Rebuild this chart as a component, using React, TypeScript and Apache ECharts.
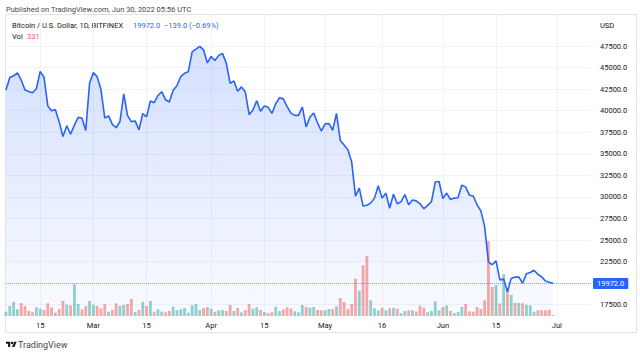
import React, { useEffect, useRef } from 'react';
import * as echarts from 'echarts';

// ---------- data ----------
const START_YEAR = 2022;
const START_MONTH = 1; // Feb (0-based)
const START_DAY = 6;
const AXIS_DAYS = 155; // Feb 6 .. Jul 10 (right margin of the plot)

// daily closes, Feb 6 .. Jun 30 2022
const prices = [
  // Feb 6 - Feb 28
  42410, 43840, 44040, 44380, 43560, 42400, 42220, 42070, 42540, 44560,
  43880, 40550, 40000, 40120, 38700, 37010, 38250, 37270, 38330, 39220,
  39120, 37710, 43190,
  // Mar 1 - Mar 31
  44420, 43920, 42450, 39150, 39400, 38420, 38020, 38740, 41940, 39430,
  38730, 38810, 37780, 39670, 39280, 41120, 40920, 41760, 42200, 41260,
  41000, 42360, 42890, 43960, 44330, 44520, 46820, 47130, 47460, 47060,
  45540,
  // Apr 1 - Apr 30
  46280, 45810, 46410, 46620, 45500, 43170, 43440, 42250, 42760, 42160,
  39530, 40080, 41150, 39940, 40550, 40390, 39680, 40800, 41500, 41370,
  40480, 39710, 39450, 39450, 40430, 38120, 39240, 39740, 38600, 37640,
  // May 1 - May 31
  38470, 38520, 37730, 39690, 36550, 36010, 35470, 34040, 30100, 31020,
  28940, 29030, 29280, 29860, 31300, 29860, 30420, 28690, 30310, 29200,
  29430, 30280, 29100, 29650, 29540, 29200, 28630, 29020, 29450, 31720,
  31790,
  // Jun 1 - Jun 30
  29800, 30450, 29700, 29860, 29910, 31370, 31130, 30200, 30110, 29090,
  28380, 26580, 22470, 22130, 22580, 20380, 20470, 19000, 20550, 20700,
  20720, 19990, 21100, 21230, 21500, 21030, 20730, 20250, 20100, 19972,
];

const volumes = [
  1430, 3320, 4650, 2220, 4320, 3320, 1660, 1230, 2890, 2420,
  1990, 4220, 2890, 1100, 2320, 4980, 3750, 3550, 10520, 3980,
  2220, 3320, 4980, 3750, 3320, 2560, 3980, 1430, 1990, 4220,
  3320, 3650, 3980, 5640, 1330, 1990, 4750, 3320, 4980, 1430,
  2220, 1430, 1230, 1660, 3090, 1890, 2220, 2660, 1100, 3550,
  3980, 1990, 2660, 2990, 2420, 1430, 1890, 1990, 1660, 3650,
  1660, 2660, 1230, 1890, 3980, 2420, 2890, 1990, 1330, 1000,
  1230, 3090, 1660, 2220, 2890, 2420, 1560, 1230, 3650, 2990,
  2760, 2990, 1990, 1890, 1890, 2320, 2320, 3220, 5980, 4650,
  2320, 3980, 12380, 8400, 16830, 19920, 5210, 2560, 1890, 2760,
  1890, 2560, 2660, 2420, 900, 1660, 1890, 1890, 1430, 3420,
  2760, 1230, 1660, 4880, 1890, 2990, 3550, 1660, 1000, 1330,
  2990, 3980, 1560, 1430, 2990, 2320, 5210, 24900, 9630, 10290,
  4150, 13940, 9300, 6970, 4320, 4320, 4220, 3750, 3550, 1430,
  1890, 1890, 1890, 2090, 331,
];

// U = up day (teal volume bar), D = down day (red volume bar)
const volumeDirections =
  'UUUUDDDDUUDDDUDDUDUUDDUUDDDUDDUUDDUDUDUDUUDDUUUUUUUUDDUDUUDDUDUDDUUDUDDUUDDDUUUDUUDDUUDUDDDDDUDDUUUDUDUDUUDUDDDUUUUDUDUUUDDDDDDDDUDUDUDUDUUUDDDDD';

const xTickDates = [
  '2022-02-15', '2022-03-01', '2022-03-15', '2022-04-01', '2022-04-15',
  '2022-05-01', '2022-05-16', '2022-06-01', '2022-06-15', '2022-07-01',
];
const xTickLabels = ['15', 'Mar', '15', 'Apr', '15', 'May', '16', 'Jun', '15', 'Jul'];

// price-scale grid levels
const yTicks = [
  17500, 20000, 22500, 25000, 27500, 30000, 32500, 35000, 37500, 40000,
  42500, 45000, 47500,
];
// labelled levels (20000.0 is covered by the last-price tag in the reference)
const yTickLabels = [
  17500, 22500, 25000, 27500, 30000, 32500, 35000, 37500, 40000,
  42500, 45000, 47500,
];

const lastPrice = 19972.0;
const lastChange = -139.0;
const lastChangePct = -0.69;
const lastVolume = 331;

// ---------- style ----------
const FONT = '"Trebuchet MS", Roboto, "Noto Sans", sans-serif';
const BLUE = '#2962ff';
const TEXT = '#131722';
const GRID = '#f0f3fa';
const UP_VOL = 'rgba(38,166,154,0.5)';
const DOWN_VOL = 'rgba(239,83,80,0.5)';

const TV_LOGO =
  'M14 22H7V11H0V4h14v18zM28 22h-8l7.5-18h8L28 22zM20 12a4 4 0 1 0 0-8 4 4 0 0 0 0 8z';
let logoRegistered = false;
function registerLogo() {
  if (logoRegistered) return;
  echarts.graphic.registerShape('tvlogo', echarts.graphic.extendPath(TV_LOGO, {}));
  logoRegistered = true;
}

function fmtSigned(v: number, digits: number) {
  const s = Math.abs(v).toFixed(digits);
  return (v < 0 ? '\u2212' : '+') + s;
}

export default function App() {
  const ref = useRef<HTMLDivElement>(null);

  useEffect(() => {
    if (!ref.current) return;
    registerLogo();
    const chart = echarts.init(ref.current, undefined, { renderer: 'svg' });

    const categories = Array.from({ length: AXIS_DAYS }, (_, i) => {
      const d = new Date(Date.UTC(START_YEAR, START_MONTH, START_DAY + i));
      return d.toISOString().slice(0, 10);
    });
    const tickSet = new Set(xTickDates);
    const labelMap: Record<string, string> = {};
    xTickDates.forEach((d, i) => (labelMap[d] = xTickLabels[i]));

    const volumeData = volumes.map((v, i) => ({
      value: v,
      itemStyle: { color: volumeDirections[i] === 'U' ? UP_VOL : DOWN_VOL },
    }));

    const headerMain = 'Bitcoin / U.S. Dollar, 1D, BITFINEX';

    const option: echarts.EChartsOption = {
      animation: false,
      backgroundColor: '#ffffff',
      textStyle: { fontFamily: FONT },
      grid: { left: 6, right: 49, top: 15, bottom: 40, containLabel: false },
      xAxis: {
        type: 'category',
        data: categories,
        boundaryGap: false,
        axisLine: { show: false },
        axisTick: { show: false },
        axisLabel: {
          interval: (_idx: number, val: string) => tickSet.has(val),
          formatter: (val: string) => labelMap[val] || '',
          color: TEXT,
          fontSize: 7.5,
          fontFamily: FONT,
          margin: 5,
        },
        splitLine: {
          show: true,
          interval: (_idx: number, val: string) => tickSet.has(val),
          lineStyle: { color: GRID, width: 1 },
        },
      },
      yAxis: [
        {
          type: 'value',
          position: 'right',
          min: 16190,
          max: 51095,
          axisLine: { show: false },
          axisTick: { show: false, customValues: yTicks } as any,
          axisLabel: {
            customValues: yTickLabels,
            formatter: (v: number) => v.toFixed(1),
            color: TEXT,
            fontSize: 7.5,
            fontFamily: FONT,
            margin: 9,
          } as any,
          splitLine: { show: true, lineStyle: { color: GRID, width: 1 } },
        },
        {
          type: 'value',
          min: 0,
          max: 100000,
          show: false,
          splitLine: { show: false },
        },
      ],
      series: [
        {
          name: 'area',
          type: 'line',
          data: prices,
          symbol: 'none',
          silent: true,
          z: 1,
          lineStyle: { width: 0 },
          areaStyle: {
            color: new echarts.graphic.LinearGradient(0, 0, 0, 1, [
              { offset: 0, color: 'rgba(41,98,255,0.28)' },
              { offset: 1, color: 'rgba(41,98,255,0.04)' },
            ]),
          },
        },
        {
          name: 'Vol',
          type: 'bar',
          yAxisIndex: 1,
          data: volumeData,
          barWidth: 2.8,
          silent: true,
          z: 2,
        },
        {
          name: 'price',
          type: 'line',
          data: prices,
          symbol: 'none',
          silent: true,
          z: 3,
          lineStyle: { color: BLUE, width: 1.6 },
          markLine: {
            silent: true,
            symbol: ['none', 'none'],
            animation: false,
            data: [{ yAxis: lastPrice }],
            lineStyle: { type: 'dotted', color: 'rgba(41,98,255,0.5)', width: 1 },
            label: {
              show: true,
              position: 'end',
              distance: 2,
              formatter: () => lastPrice.toFixed(1),
              backgroundColor: BLUE,
              color: '#ffffff',
              opacity: 1,
              fontSize: 7.5,
              fontFamily: FONT,
              padding: [2, 4, 1, 4],
              borderRadius: 1,
            },
          },
        },
      ],
      graphic: [
        {
          type: 'rect',
          silent: true,
          z: 0,
          shape: { x: 5.5, y: 14.5, width: 631, height: 318 },
          style: { fill: 'none', stroke: '#e0e3eb', lineWidth: 1 },
        },
        {
          type: 'text',
          x: 6,
          y: 9,
          style: {
            text: 'Published on TradingView.com, Jun 30, 2022 05:56 UTC',
            fill: '#434651',
            fontSize: 7.5,
            fontFamily: FONT,
            verticalAlign: 'middle',
          },
        },
        {
          type: 'text',
          x: 12,
          y: 25,
          style: {
            text: headerMain,
            fill: TEXT,
            fontSize: 7.5,
            fontFamily: FONT,
            verticalAlign: 'middle',
          },
        },
        {
          type: 'text',
          x: 133,
          y: 25,
          style: {
            text: lastPrice.toFixed(1) + '  ' + fmtSigned(lastChange, 1) + ' (' + fmtSigned(lastChangePct, 2) + '%)',
            fill: BLUE,
            fontSize: 7.5,
            fontFamily: FONT,
            verticalAlign: 'middle',
          },
        },
        {
          type: 'text',
          x: 12,
          y: 36,
          style: { text: 'Vol', fill: TEXT, fontSize: 7.5, fontFamily: FONT, verticalAlign: 'middle' },
        },
        {
          type: 'text',
          x: 27,
          y: 36,
          style: {
            text: String(lastVolume),
            fill: '#f7525f',
            fontSize: 7.5,
            fontFamily: FONT,
            verticalAlign: 'middle',
          },
        },
        {
          type: 'text',
          x: 600,
          y: 25,
          style: { text: 'USD', fill: TEXT, fontSize: 7.5, fontFamily: FONT, verticalAlign: 'middle' },
        },
        {
          type: 'tvlogo',
          x: 6,
          y: 340.5,
          scaleX: 0.3,
          scaleY: 0.3,
          silent: true,
          style: { fill: TEXT },
        } as any,
        {
          type: 'text',
          x: 18,
          y: 345,
          style: {
            text: 'TradingView',
            fill: '#434651',
            fontSize: 9,
            fontFamily: FONT,
            verticalAlign: 'middle',
          },
        },
      ],
    };

    chart.setOption(option);
    return () => chart.dispose();
  }, []);

  return (
    <div
      ref={ref}
      style={{ position: 'fixed', left: 0, top: 0, width: 640, height: 356, background: '#fff' }}
    />
  );
}
